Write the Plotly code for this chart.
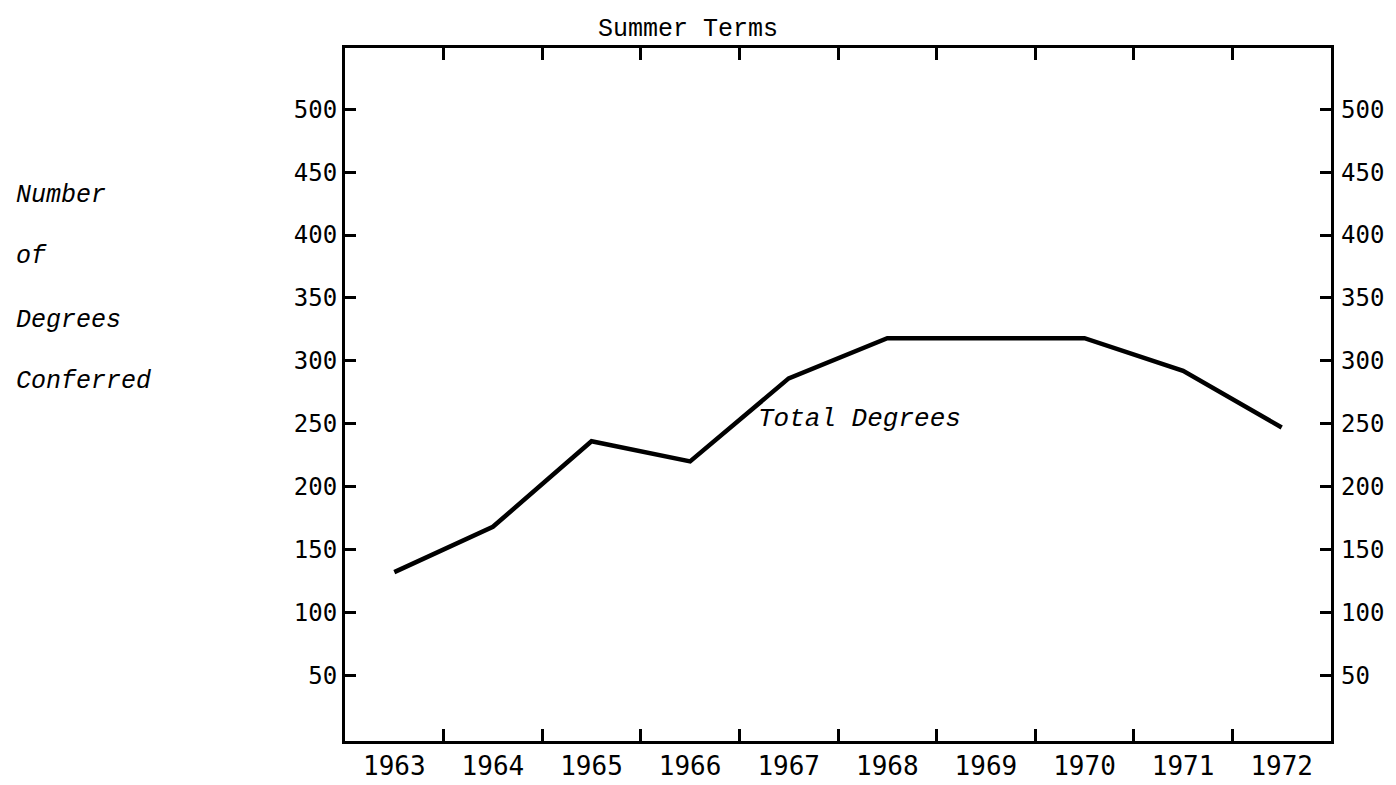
# Summer Terms - total degrees conferred, 1963-1972
import plotly.graph_objects as go

# Dados
anos = ['1963', '1964', '1965', '1966', '1967', '1968', '1969', '1970', '1971', '1972']
total_graus = [132, 168, 236, 220, 286, 318, 318, 318, 292, 247]
ticks_y = [50, 100, 150, 200, 250, 300, 350, 400, 450, 500]

fonte_num = 'DejaVu Sans Mono'
fonte_tw = 'Courier New, Liberation Mono, monospace'
intervalo_y = [-2.3, 548.7]

fig = go.Figure()

# Linha principal
fig.add_trace(go.Scatter(x=anos, y=total_graus, mode='lines',
                         line=dict(color='black', width=4.5),
                         hoverinfo='x+y', showlegend=False))

# Traço invisível só para ativar o eixo y da direita
fig.add_trace(go.Scatter(x=anos, y=total_graus, yaxis='y2', mode='lines',
                         line=dict(color='rgba(0,0,0,0)', width=0),
                         hoverinfo='skip', showlegend=False))

fig.update_layout(
    width=1396, height=785,
    paper_bgcolor='white', plot_bgcolor='white',
    margin=dict(l=337, r=73, t=40, b=32),
    title=dict(text='Summer Terms', x=680 / 1396, xanchor='center',
               y=1 - 19 / 785, yanchor='middle', yref='container',
               font=dict(family=fonte_tw, size=25, color='black')),
    xaxis=dict(type='category', range=[-0.5, 9.5], tickson='boundaries',
               ticks='inside', ticklen=12, tickwidth=2.5, tickcolor='black',
               showline=True, linecolor='black', linewidth=3, mirror='ticks',
               showgrid=False, zeroline=False,
               tickfont=dict(family=fonte_num, size=26, color='black')),
    yaxis=dict(range=intervalo_y, tickvals=ticks_y, ticks='inside',
               ticklen=11, tickwidth=2.5, tickcolor='black',
               showline=True, linecolor='black', linewidth=3, mirror=True,
               showgrid=False, zeroline=False, ticklabelstandoff=0,
               tickfont=dict(family=fonte_num, size=24, color='black')),
    yaxis2=dict(range=intervalo_y, tickvals=ticks_y, overlaying='y', side='right',
                ticks='inside', ticklen=11, tickwidth=2.5, tickcolor='black',
                showline=False, showgrid=False, zeroline=False,
                ticklabelstandoff=9,
                tickfont=dict(family=fonte_num, size=24, color='black')),
)

# Rótulo do eixo y, em itálico, uma palavra por linha
rotulos = ['Number', 'of', 'Degrees', 'Conferred']
alturas = [192, 255, 320, 383]
for txt, yy in zip(rotulos, alturas):
    fig.add_annotation(text='<i>' + txt + '</i>', xref='paper', yref='paper',
                       x=(6 - 337) / 986, y=(753 - yy) / 713,
                       xanchor='left', yanchor='middle', showarrow=False,
                       font=dict(family=fonte_tw, size=25, color='black'))

# Rótulo da série
fig.add_annotation(text='<i>Total Degrees</i>', xref='paper', yref='paper',
                   x=(748 - 337) / 986, y=(753 - 422) / 713,
                   xanchor='left', yanchor='middle', showarrow=False,
                   font=dict(family=fonte_tw, size=26, color='black'))

fig.write_html('out.html')
